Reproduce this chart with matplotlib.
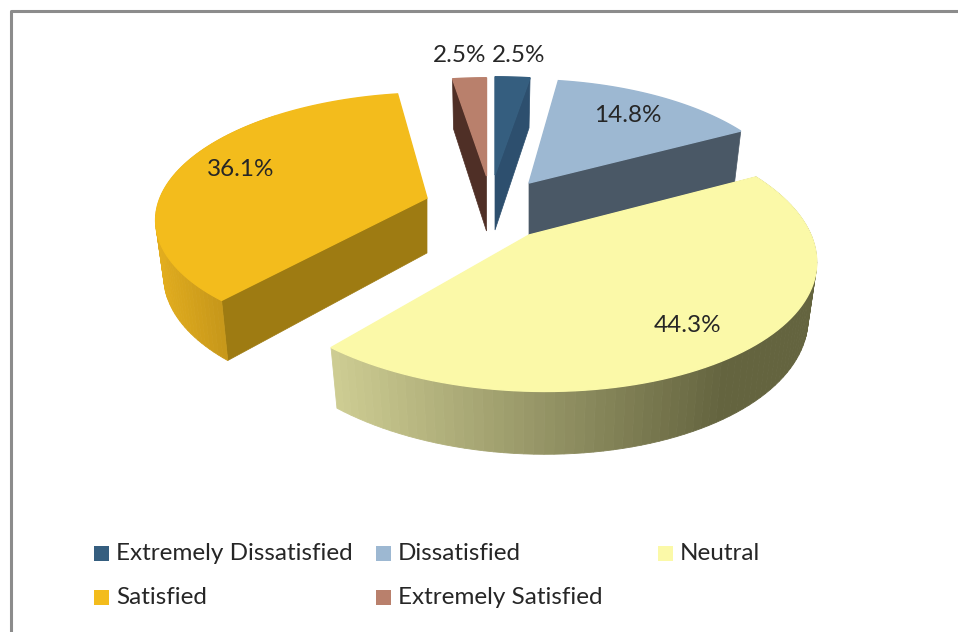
import numpy as np
import matplotlib
matplotlib.use("Agg")
import matplotlib.pyplot as plt
from matplotlib.colors import to_rgb
from matplotlib.patches import Polygon, Rectangle

plt.rcParams['font.family'] = ['Lato', 'DejaVu Sans']

# Donnees
categories = ["Extremely Dissatisfied", "Dissatisfied", "Neutral", "Satisfied", "Extremely Satisfied"]
values = [2.5, 14.8, 44.3, 36.1, 2.5]
value_labels = ["2.5%", "14.8%", "44.3%", "36.1%", "2.5%"]

top_colors = ["#355E7F", "#9DB8D2", "#FBF9A8", "#F3BC1C", "#B9806C"]
side_colors = ["#2D4F6E", "#4A5866", "#8A8A5C", "#9E7B12", "#4F2F26"]

# apex x, apex y, rx, ry, skew : reglages de chaque part (perspective)
layout = {
    "Extremely Dissatisfied": (495, 175, 258, 113, 0),
    "Dissatisfied": (529, 183, 260, 119, -7),
    "Neutral": (529, 235, 282, 133, -14),
    "Satisfied": (427, 198, 267, 121, 8),
    "Extremely Satisfied": (486.5, 176, 250, 113, 0),
}
label_pos = [(519, 56), (628, 115), (688, 325), (241, 169), (460, 56)]
legend_pos = [(94, 553), (376, 553), (658, 553), (94, 597), (376, 597)]
draw_order = [4, 0, 1, 3, 2]
# la face radiale visible : 0 = debut de la part, 1 = fin
radial_face = {0: 1, 1: 1, 2: 0, 3: 0, 4: 0}

PERSP = 0.15
DEPTH = 55


def project(theta, layout_slice, bottom=False):
    ax_, ay_, rx, ry, skew = layout_slice
    u, v = np.sin(theta), np.cos(theta)
    w = 1 + PERSP * v
    dx = (rx * u + skew * v) / w
    dy = -ry * v / w
    if bottom:
        return ax_ + 0.97 * dx, ay_ + 1.05 * dy + DEPTH
    return ax_ + dx, ay_ + dy


def mix(c1, c2, t):
    c1, c2 = np.array(to_rgb(c1)), np.array(to_rgb(c2))
    return tuple(c1 + (c2 - c1) * np.clip(t, 0, 1))


fig = plt.figure(figsize=(9.58, 6.32), dpi=100)
ax = fig.add_axes([0, 0, 1, 1])
ax.set_xlim(0, 958)
ax.set_ylim(632, 0)
ax.axis('off')

# Cadre du graphique : seulement en haut et a gauche
ax.plot([11, 11, 958], [632, 11, 11], color="#8C8C8C", lw=2.2)

fractions = np.array(values) / sum(values)
edges = np.concatenate([[0], np.cumsum(fractions)]) * 2 * np.pi

for i in draw_order:
    cfg = layout[categories[i]]
    angles = np.linspace(edges[i], edges[i + 1], 90)

    # Face radiale
    theta = edges[i + radial_face[i]]
    apex_top = cfg[0], cfg[1]
    apex_bot = cfg[0], cfg[1] + DEPTH
    ax.add_patch(Polygon([apex_top, project(theta, cfg), project(theta, cfg, True), apex_bot],
                         fc=side_colors[i], ec=side_colors[i], lw=0.5))

    # Tranche courbe, en bandes pour le degrade
    if i in (2, 3):
        for a, b in zip(angles[:-1], angles[1:]):
            xa, ya = project(a, cfg)
            if np.cos((a + b) / 2) > 0.75:
                continue
            if i == 2:
                col = mix("#CDCC92", "#64643F", (xa - 340) / 390)
            else:
                col = mix("#E2AD1E", "#C8981A", (xa - 156) / 64)
            ax.add_patch(Polygon([project(a, cfg), project(b, cfg),
                                  project(b, cfg, True), project(a, cfg, True)],
                                 fc=col, ec=col, lw=0.6))

    # Dessus de la part
    rim = [project(t, cfg) for t in angles]
    ax.add_patch(Polygon([apex_top] + rim, fc=top_colors[i], ec=top_colors[i], lw=1))

for (x, y), txt in zip(label_pos, value_labels):
    ax.text(x, y, txt, ha='center', va='center', fontsize=17.5, color="#262626")

for (x, y), name, col in zip(legend_pos, categories, top_colors):
    ax.add_patch(Rectangle((x, y - 7.5), 15, 15, fc=col, ec='none'))
    ax.text(x + 22, y, name, ha='left', va='center', fontsize=17.5, color="#262626")

plt.savefig("out.png", dpi=100)
